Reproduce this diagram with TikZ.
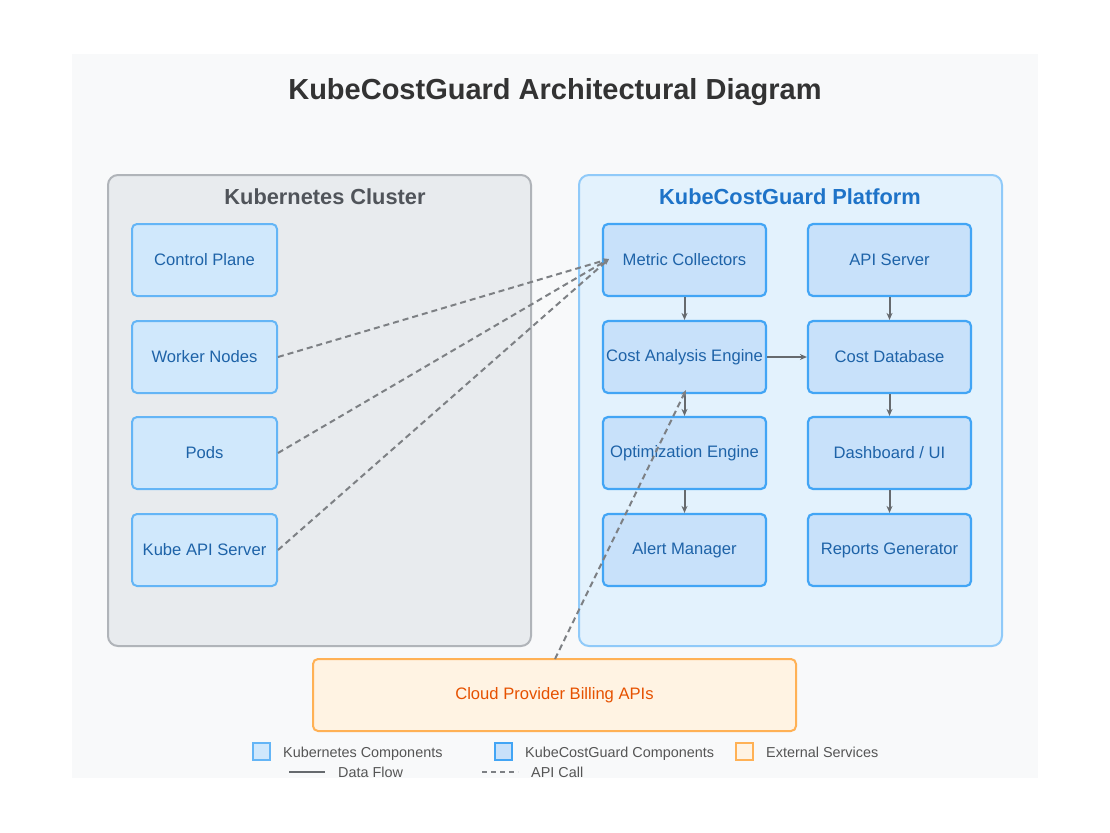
\documentclass[tikz,border=0pt]{standalone}
\usepackage{fontspec}
\setmainfont{Liberation Sans}
\usetikzlibrary{arrows.meta}
\definecolor{panelbg}{HTML}{F8F9FA}
\definecolor{kcbg}{HTML}{E8EBEE}
\definecolor{kcline}{HTML}{B0B4B9}
\definecolor{kgbg}{HTML}{E3F2FD}
\definecolor{kgline}{HTML}{90CAF9}
\definecolor{kcomp}{HTML}{D0E8FC}
\definecolor{kcompline}{HTML}{64B5F6}
\definecolor{gcomp}{HTML}{C8E1FA}
\definecolor{gcompline}{HTML}{42A5F5}
\definecolor{comptext}{HTML}{1E63A8}
\definecolor{gtitle}{HTML}{1E73C8}
\definecolor{extbg}{HTML}{FFF3E3}
\definecolor{extline}{HTML}{FFB155}
\definecolor{exttext}{HTML}{E65100}
\definecolor{flow}{HTML}{666A6E}
\definecolor{dtext}{HTML}{333333}
\definecolor{ktitle}{HTML}{50545A}
\definecolor{legtext}{HTML}{555555}
\tikzset{
  x=1pt,y=-1pt,
  kbox/.style={draw=kcompline,fill=kcomp,line width=2pt,rounded corners=5pt,minimum width=145pt,minimum height=72pt,inner sep=0pt,text=comptext,font=\fontsize{16.6}{19}\selectfont},
  gbox/.style={draw=gcompline,fill=gcomp,line width=2.2pt,rounded corners=5pt,minimum width=163pt,minimum height=72pt,inner sep=0pt,text=comptext,font=\fontsize{16.6}{19}\selectfont},
  flowarrow/.style={draw=flow,line width=2pt,-{Stealth[length=7pt,width=6pt]}},
  apiline/.style={draw=flow!85,line width=2pt,dash pattern=on 6pt off 4pt,-{Stealth[length=6pt,width=5pt]}},
  legtxt/.style={anchor=base west,text=legtext,font=\fontsize{14.4}{16}\selectfont,inner sep=0pt},
}
\begin{document}
\begin{tikzpicture}
\useasboundingbox (0,0) rectangle (1110,832);
\fill[white] (0,0) rectangle (1110,832);
\fill[panelbg] (72,54) rectangle (1038,778);
\node[font=\fontsize{29}{33}\selectfont\bfseries,text=dtext] (title) at (555,92) {KubeCostGuard Architectural Diagram};
% groups
\draw[kcline,fill=kcbg,line width=2pt,rounded corners=10pt] (108,175) rectangle (531,646);
\node[font=\fontsize{21.8}{25}\selectfont\bfseries,text=ktitle] (kct) at (325,197) {Kubernetes Cluster};
\draw[kgline,fill=kgbg,line width=2pt,rounded corners=10pt] (579,175) rectangle (1002,646);
\node[font=\fontsize{21.8}{25}\selectfont\bfseries,text=gtitle] (kgt) at (790,197) {KubeCostGuard Platform};
% kubernetes components
\node[kbox] (cp) at (204.5,260) {Control Plane};
\node[kbox] (wn) at (204.5,357) {Worker Nodes};
\node[kbox] (pods) at (204.5,453) {Pods};
\node[kbox] (kapi) at (204.5,550) {Kube API Server};
% kcg components
\node[gbox] (mc) at (684.5,260) {Metric Collectors};
\node[gbox] (cae) at (684.5,357) {Cost Analysis Engine};
\node[gbox] (oe) at (684.5,453) {Optimization Engine};
\node[gbox] (am) at (684.5,550) {Alert Manager};
\node[gbox] (apis) at (889.5,260) {API Server};
\node[gbox] (cdb) at (889.5,357) {Cost Database};
\node[gbox] (dash) at (889.5,453) {Dashboard / UI};
\node[gbox] (rep) at (889.5,550) {Reports Generator};
% external
\node[draw=extline,fill=extbg,line width=2pt,rounded corners=5pt,minimum width=483pt,minimum height=72pt,inner sep=0pt,text=exttext,font=\fontsize{16.6}{19}\selectfont] (cloud) at (554.5,695) {Cloud Provider Billing APIs};
% data flow
\draw[flowarrow] (mc.south) -- (cae.north);
\draw[flowarrow] (cae.south) -- (oe.north);
\draw[flowarrow] (oe.south) -- (am.north);
\draw[flowarrow] (cae.east) -- (cdb.west);
\draw[flowarrow] (apis.south) -- (cdb.north);
\draw[flowarrow] (cdb.south) -- (dash.north);
\draw[flowarrow] (dash.south) -- (rep.north);
% api calls
\coordinate (mcin) at (609,259);
\draw[apiline] (wn.east) -- (mcin);
\draw[apiline] (pods.east) -- (mcin);
\draw[apiline] (kapi.east) -- (mcin);
\coordinate (cloudout) at (555,659);
\coordinate (caein) at (686,390);
\draw[apiline] (cloudout) -- (caein);
% legend
\draw[kcompline,fill=kcomp,line width=2pt] (253,743) rectangle (270,760);
\node[legtxt] (l1) at (283,757.5) {Kubernetes Components};
\draw[gcompline,fill=gcomp,line width=2pt] (495,743) rectangle (512,760);
\node[legtxt] (l2) at (525,757.5) {KubeCostGuard Components};
\draw[extline,fill=extbg,line width=2pt] (736,743) rectangle (753,760);
\node[legtxt] (l3) at (766,757.5) {External Services};
\coordinate (lf1) at (289,772); \coordinate (lf2) at (325,772);
\draw[flow,line width=2pt] (lf1) -- (lf2);
\node[legtxt] (l4) at (338,777.5) {Data Flow};
\coordinate (ld1) at (482,772); \coordinate (ld2) at (518,772);
\draw[flow!85,line width=2pt,dash pattern=on 5pt off 4pt] (ld1) -- (ld2);
\node[legtxt] (l5) at (531,777.5) {API Call};
\end{tikzpicture}
\end{document}
